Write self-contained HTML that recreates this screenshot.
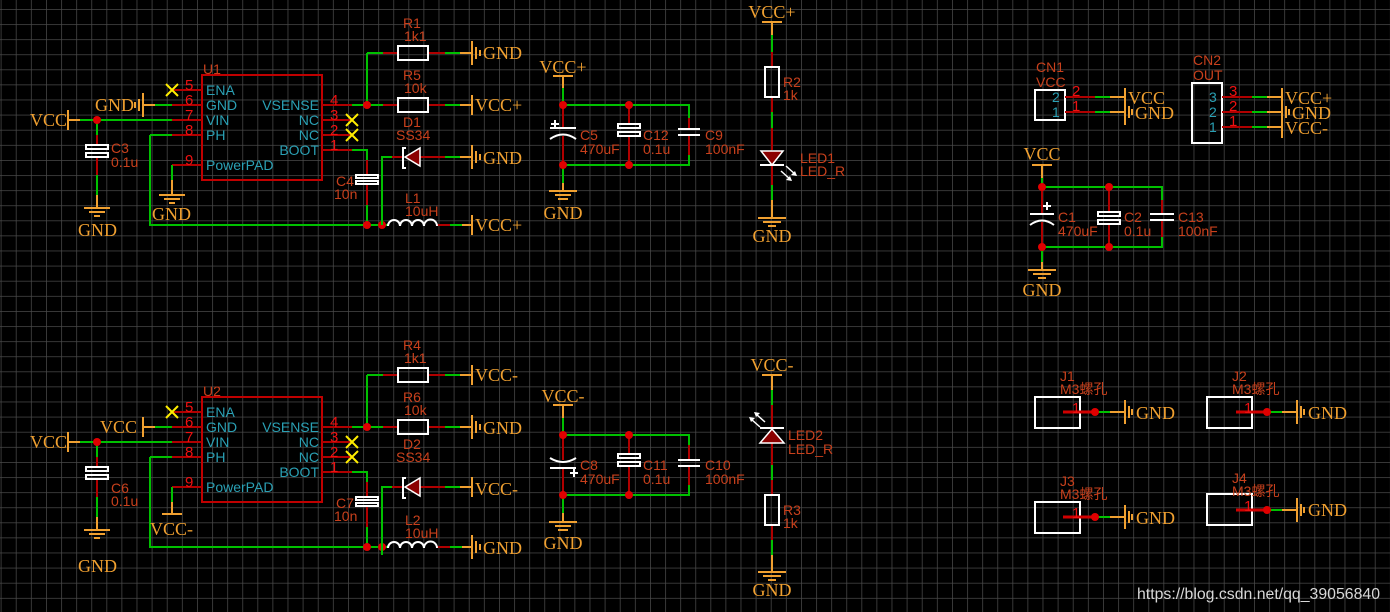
<!DOCTYPE html>
<html><head><meta charset="utf-8"><style>
html,body{margin:0;padding:0;background:#000;width:1390px;height:612px;overflow:hidden}
svg{display:block}
.p{font-family:"Liberation Serif",serif;font-size:18px;fill:#f0a030}
.d{font-family:"Liberation Sans","Noto Sans CJK SC",sans-serif;font-size:14px;fill:#c8401c}
.n{font-family:"Liberation Sans",sans-serif;font-size:14px;fill:#2aa0b4}
.pn{font-family:"Liberation Sans",sans-serif;font-size:15px;fill:#ee1111}
</style></head><body>
<svg width="1390" height="612" viewBox="0 0 1390 612" xmlns="http://www.w3.org/2000/svg">
<defs>
<pattern id="g" x="15.8" y="9" width="15.1" height="15.1" patternUnits="userSpaceOnUse">
<path d="M0 0H15.1M0 0V15.1" stroke="#4a4a4a" stroke-width="1.5" fill="none"/>
</pattern>
<g id="ic" fill="none" stroke-width="2">
<rect x="202" y="75" width="120" height="105" stroke="#c00000"/>
<g stroke="#b00000"><path d="M172 90H202M172 105H202M172 120H202M172 135H202M172 165H202M322 105H352M322 120H352M322 135H352M322 150H352"/></g>
<g stroke="#ffee00"><path d="M166 84l12 12M178 84l-12 12M346 114l12 12M358 114l-12 12M346 129l12 12M358 129l-12 12"/></g>
<g stroke="#00c000"><path d="M80 120H172M150 135H172M150 135V225H388M97 120V135M97 175V195"/>
<path d="M352 105H383M367 53V105M367 53H383M352 150H367V160M367 205V225M445 53H460M445 105H460M450 225H462M172 165V180"/></g>
<g stroke="#b00000"><path d="M97 135V145M97 157V175M383 53H398M428 53H445M383 105H398M428 105H445M367 160V175M367 183V205M437 225H450"/></g>
<g stroke="#fff"><rect x="86" y="145" width="22" height="4"/><rect x="86" y="153" width="22" height="4"/>
<rect x="398" y="46" width="30" height="14"/><rect x="398" y="98" width="30" height="14"/>
<rect x="356" y="175" width="22" height="3"/><rect x="356" y="181" width="22" height="3"/>
<path d="M388 226a6 6 0 0 1 12 0a6 6 0 0 1 12 0a6 6 0 0 1 12 0a6 6 0 0 1 13 0"/></g>
<g fill="#e00000" stroke="none"><circle cx="97" cy="120" r="4"/><circle cx="367" cy="105" r="4"/><circle cx="367" cy="225" r="4"/><circle cx="382" cy="225" r="4"/></g>
<g stroke="#f0a030"><path d="M97 195V208M84 208H110M89 212H105M94 216H100M460 53H472M460 105H472M462 225H472"/></g>
</g>
<g id="dio" fill="none" stroke-width="2">
<path d="M382 68V0H392M445 0H460" stroke="#00c000"/>
<path d="M392 0H403M420 0H445" stroke="#b00000"/>
<path d="M460 0H472" stroke="#f0a030"/>
<path d="M406 -9h-3v20h3" stroke="#fff"/>
<path d="M405 0L420 -9V9Z" fill="#8b0000" stroke="#fff" stroke-width="1.5"/>
</g>
</defs>
<rect width="1390" height="612" fill="#000"/>
<rect width="1390" height="612" fill="url(#g)"/>

<!-- U1 -->
<use href="#ic"/>
<use href="#dio" transform="translate(0,157)"/>
<g fill="none" stroke-width="2">
<path d="M155 105H172" stroke="#00c000"/>
<g stroke="#f0a030"><path d="M143 105H155M143 93V117M139 99V111M135 102V108M68 120H80M68 110V130M172 180V195M159 195H185M164 199H180M169 203H175"/>
<path d="M472 41V65M476 47V59M480 50V56M472 95V115M472 145V169M476 151V163M480 154V160M472 215V235"/></g>
</g>
<text class="p" x="95" y="111">GND</text><text class="p" x="30" y="126">VCC</text>
<text class="p" x="78" y="236">GND</text><text class="p" x="152" y="220">GND</text>
<text class="p" x="483" y="59">GND</text><text class="p" x="475" y="111">VCC+</text>
<text class="p" x="483" y="164">GND</text><text class="p" x="475" y="231">VCC+</text>
<text class="d" x="203" y="74">U1</text>
<text class="n" x="206" y="95">ENA</text><text class="n" x="206" y="110">GND</text><text class="n" x="206" y="125">VIN</text><text class="n" x="206" y="140">PH</text><text class="n" x="206" y="170">PowerPAD</text>
<text class="n" x="319" y="110" text-anchor="end">VSENSE</text><text class="n" x="319" y="125" text-anchor="end">NC</text><text class="n" x="319" y="140" text-anchor="end">NC</text><text class="n" x="319" y="155" text-anchor="end">BOOT</text>
<text class="pn" x="185" y="90">5</text><text class="pn" x="185" y="105">6</text><text class="pn" x="185" y="120">7</text><text class="pn" x="185" y="135">8</text><text class="pn" x="185" y="165">9</text>
<text class="pn" x="330" y="105">4</text><text class="pn" x="330" y="120">3</text><text class="pn" x="330" y="135">2</text><text class="pn" x="330" y="150">1</text>
<text class="d" x="111" y="153">C3</text><text class="d" x="111" y="167">0.1u</text>
<text class="d" x="403" y="28">R1</text><text class="d" x="404" y="41">1k1</text>
<text class="d" x="403" y="80">R5</text><text class="d" x="404" y="93">10k</text>
<text class="d" x="403" y="127">D1</text><text class="d" x="396" y="140">SS34</text>
<text class="d" x="336" y="186">C4</text><text class="d" x="334" y="199">10n</text>
<text class="d" x="405" y="203">L1</text><text class="d" x="405" y="216">10uH</text>

<!-- U2 -->
<use href="#ic" transform="translate(0,322)"/>
<use href="#dio" transform="translate(0,487)"/>
<g fill="none" stroke-width="2">
<path d="M155 427H172" stroke="#00c000"/>
<g stroke="#f0a030"><path d="M143 427H155M143 417V437M68 442H80M68 432V452M172 502V514M162 514H182"/>
<path d="M472 365V385M472 415V439M476 421V433M480 424V430M472 477V497M472 535V559M476 541V553M480 544V550"/></g>
</g>
<text class="p" x="100" y="433">VCC</text><text class="p" x="30" y="448">VCC</text>
<text class="p" x="78" y="572">GND</text><text class="p" x="150" y="535">VCC-</text>
<text class="p" x="475" y="381">VCC-</text><text class="p" x="483" y="434">GND</text>
<text class="p" x="475" y="495">VCC-</text><text class="p" x="483" y="554">GND</text>
<text class="d" x="203" y="396">U2</text>
<text class="n" x="206" y="417">ENA</text><text class="n" x="206" y="432">GND</text><text class="n" x="206" y="447">VIN</text><text class="n" x="206" y="462">PH</text><text class="n" x="206" y="492">PowerPAD</text>
<text class="n" x="319" y="432" text-anchor="end">VSENSE</text><text class="n" x="319" y="447" text-anchor="end">NC</text><text class="n" x="319" y="462" text-anchor="end">NC</text><text class="n" x="319" y="477" text-anchor="end">BOOT</text>
<text class="pn" x="185" y="412">5</text><text class="pn" x="185" y="427">6</text><text class="pn" x="185" y="442">7</text><text class="pn" x="185" y="457">8</text><text class="pn" x="185" y="487">9</text>
<text class="pn" x="330" y="427">4</text><text class="pn" x="330" y="442">3</text><text class="pn" x="330" y="457">2</text><text class="pn" x="330" y="472">1</text>
<text class="d" x="111" y="493">C6</text><text class="d" x="111" y="506">0.1u</text>
<text class="d" x="403" y="350">R4</text><text class="d" x="404" y="363">1k1</text>
<text class="d" x="403" y="402">R6</text><text class="d" x="404" y="415">10k</text>
<text class="d" x="403" y="449">D2</text><text class="d" x="396" y="462">SS34</text>
<text class="d" x="336" y="508">C7</text><text class="d" x="334" y="521">10n</text>
<text class="d" x="405" y="525">L2</text><text class="d" x="405" y="538">10uH</text>

<!-- output caps top -->
<g fill="none" stroke-width="2">
<path d="M553 76H573M563 76V88M555 195H571M558 199H568M549 191H577M563 183V191" stroke="#f0a030"/>
<path d="M563 88V105H689V118M563 165H689V155M563 165V183" stroke="#00c000"/>
<path d="M563 105V128M563 136V165M629 105V124M629 136V165M689 118V129M689 135V155" stroke="#b00000"/>
<g stroke="#fff"><path d="M550 128H576M550 139Q563 130 576 139M551 124h8M555 120v8M678 129H700M678 135H700"/><rect x="618" y="124" width="22" height="4"/><rect x="618" y="132" width="22" height="4"/></g>
</g>
<g fill="#e00000"><circle cx="563" cy="105" r="4"/><circle cx="629" cy="105" r="4"/><circle cx="563" cy="165" r="4"/><circle cx="629" cy="165" r="4"/></g>
<text class="p" x="563" y="73" text-anchor="middle">VCC+</text><text class="p" x="563" y="219" text-anchor="middle">GND</text>
<text class="d" x="580" y="140">C5</text><text class="d" x="580" y="154">470uF</text>
<text class="d" x="643" y="140">C12</text><text class="d" x="643" y="154">0.1u</text>
<text class="d" x="705" y="140">C9</text><text class="d" x="705" y="154">100nF</text>

<!-- output caps bottom -->
<g fill="none" stroke-width="2">
<path d="M553 405H573M563 405V418M549 522H577M555 526H571M558 530H568M563 513V522" stroke="#f0a030"/>
<path d="M563 418V435H689V445M563 495H689V485M563 495V513" stroke="#00c000"/>
<path d="M563 435V460M563 468V495M629 435V454M629 466V495M689 445V460M689 466V485" stroke="#b00000"/>
<g stroke="#fff"><path d="M550 468H576M550 458Q563 466 576 458M570 473h8M574 469v8M678 460H700M678 466H700"/><rect x="618" y="454" width="22" height="4"/><rect x="618" y="462" width="22" height="4"/></g>
</g>
<g fill="#e00000"><circle cx="563" cy="435" r="4"/><circle cx="629" cy="435" r="4"/><circle cx="563" cy="495" r="4"/><circle cx="629" cy="495" r="4"/></g>
<text class="p" x="563" y="402" text-anchor="middle">VCC-</text><text class="p" x="563" y="549" text-anchor="middle">GND</text>
<text class="d" x="580" y="470">C8</text><text class="d" x="580" y="484">470uF</text>
<text class="d" x="643" y="470">C11</text><text class="d" x="643" y="484">0.1u</text>
<text class="d" x="705" y="470">C10</text><text class="d" x="705" y="484">100nF</text>

<!-- LED1 -->
<g fill="none" stroke-width="2">
<path d="M762 22H782M772 22V35M772 200V218M758 218H786M763 222H781M768 226H776" stroke="#f0a030"/>
<path d="M772 35V52M772 112V128M772 185V200" stroke="#00c000"/>
<path d="M772 52V67M772 97V112M772 128V150M772 165V185" stroke="#b00000"/>
<rect x="765" y="67" width="14" height="30" stroke="#fff"/>
<path d="M760 165H784" stroke="#fff"/>
<path d="M786 166l10 9M781 171l10 9" stroke="#fff" stroke-width="1.5"/>
</g>
<path d="M761 151H783L772 165Z" fill="#8b0000" stroke="#fff" stroke-width="1.5"/>
<path d="M797 176l-6-1 4-4zM792 181l-6-1 4-4z" fill="#fff"/>
<text class="p" x="772" y="18" text-anchor="middle">VCC+</text><text class="p" x="772" y="242" text-anchor="middle">GND</text>
<text class="d" x="783" y="87">R2</text><text class="d" x="783" y="100">1k</text>
<text class="d" x="800" y="163">LED1</text><text class="d" x="800" y="176">LED_R</text>

<!-- LED2 -->
<g fill="none" stroke-width="2">
<path d="M762 375H782M772 375V390M772 555V572M758 572H786M763 576H781M768 580H776" stroke="#f0a030"/>
<path d="M772 390V405M772 465V480M772 540V555" stroke="#00c000"/>
<path d="M772 405V428M772 442V465M772 480V495M772 525V540" stroke="#b00000"/>
<rect x="765" y="495" width="14" height="30" stroke="#fff"/>
<path d="M760 428H784" stroke="#fff"/>
<path d="M765 422l-9-8M760 427l-9-8" stroke="#fff" stroke-width="1.5"/>
</g>
<path d="M772 429L784 443H760Z" fill="#8b0000" stroke="#fff" stroke-width="1.5"/>
<path d="M754 412l6 1-4 4zM749 417l6 1-4 4z" fill="#fff"/>
<text class="p" x="772" y="371" text-anchor="middle">VCC-</text><text class="p" x="772" y="596" text-anchor="middle">GND</text>
<text class="d" x="788" y="440">LED2</text><text class="d" x="788" y="454">LED_R</text>
<text class="d" x="783" y="515">R3</text><text class="d" x="783" y="528">1k</text>

<!-- CN1 / CN2 -->
<g fill="none" stroke-width="2">
<rect x="1035" y="90" width="30" height="30" stroke="#fff"/>
<rect x="1192" y="83" width="30" height="60" stroke="#fff"/>
<path d="M1065 97H1095M1065 112H1095M1222 97H1252M1222 112H1252M1222 127H1252" stroke="#b00000"/>
<path d="M1095 97H1110M1095 112H1110M1252 97H1267M1252 112H1267M1252 127H1267" stroke="#00c000"/>
<path d="M1110 97H1125M1110 112H1125M1125 88V125M1129 106V118M1132 109V115M1267 97H1282M1267 112H1282M1267 127H1282M1282 88V138M1286 106V118M1289 109V115" stroke="#f0a030"/>
</g>
<text class="n" x="1052" y="102">2</text><text class="n" x="1052" y="117">1</text>
<text class="n" x="1209" y="102">3</text><text class="n" x="1209" y="117">2</text><text class="n" x="1209" y="132">1</text>
<text class="pn" x="1072" y="96">2</text><text class="pn" x="1072" y="111">1</text>
<text class="pn" x="1229" y="96">3</text><text class="pn" x="1229" y="111">2</text><text class="pn" x="1229" y="126">1</text>
<text class="p" x="1128" y="104">VCC</text><text class="p" x="1135" y="119">GND</text>
<text class="p" x="1285" y="104">VCC+</text><text class="p" x="1292" y="119">GND</text><text class="p" x="1285" y="134">VCC-</text>
<text class="d" x="1036" y="72">CN1</text><text class="d" x="1036" y="87">VCC</text>
<text class="d" x="1193" y="65">CN2</text><text class="d" x="1193" y="80">OUT</text>

<!-- C1 block -->
<g fill="none" stroke-width="2">
<path d="M1032 165H1052M1042 165V178M1042 262V270M1028 270H1056M1033 274H1051M1038 278H1046" stroke="#f0a030"/>
<path d="M1042 178V187H1162V200M1042 247H1162V237M1042 247V262" stroke="#00c000"/>
<path d="M1042 187V214M1042 222V247M1109 187V212M1109 225V247M1162 200V214M1162 220V237" stroke="#b00000"/>
<g stroke="#fff"><path d="M1030 214H1054M1030 225Q1042 216 1054 225M1043 206h8M1047 202v8M1150 214H1174M1150 220H1174"/><rect x="1098" y="212" width="22" height="4"/><rect x="1098" y="220" width="22" height="4"/></g>
</g>
<g fill="#e00000"><circle cx="1042" cy="187" r="4"/><circle cx="1109" cy="187" r="4"/><circle cx="1042" cy="247" r="4"/><circle cx="1109" cy="247" r="4"/></g>
<text class="p" x="1042" y="160" text-anchor="middle">VCC</text><text class="p" x="1042" y="296" text-anchor="middle">GND</text>
<text class="d" x="1058" y="222">C1</text><text class="d" x="1058" y="236">470uF</text>
<text class="d" x="1124" y="222">C2</text><text class="d" x="1124" y="236">0.1u</text>
<text class="d" x="1178" y="222">C13</text><text class="d" x="1178" y="236">100nF</text>

<!-- J holes -->
<g fill="none" stroke-width="2">
<rect x="1035" y="397" width="45" height="31" stroke="#fff"/>
<rect x="1207" y="397" width="45" height="31" stroke="#fff"/>
<rect x="1035" y="502" width="45" height="31" stroke="#fff"/>
<rect x="1207" y="494" width="45" height="31" stroke="#fff"/>
<path d="M1063 412H1095M1236 412H1267M1063 517H1095M1236 510H1267" stroke="#d00000" stroke-width="3"/>
<path d="M1095 412H1110M1267 412H1282M1095 517H1110M1267 510H1282" stroke="#00c000"/>
<g stroke="#f0a030"><path d="M1110 412H1125M1125 400V424M1129 406V418M1132 409V415"/>
<path d="M1282 412H1297M1297 400V424M1301 406V418M1304 409V415"/>
<path d="M1110 517H1125M1125 505V529M1129 511V523M1132 514V520"/>
<path d="M1282 510H1297M1297 498V522M1301 504V516M1304 507V513"/></g>
</g>
<g fill="#e00000"><circle cx="1095" cy="412" r="4"/><circle cx="1267" cy="412" r="4"/><circle cx="1095" cy="517" r="4"/><circle cx="1267" cy="510" r="4"/></g>
<text class="pn" x="1072" y="413">1</text><text class="pn" x="1244" y="413">1</text><text class="pn" x="1072" y="518">1</text><text class="pn" x="1244" y="511">1</text>
<text class="p" x="1136" y="419">GND</text><text class="p" x="1308" y="419">GND</text><text class="p" x="1136" y="524">GND</text><text class="p" x="1308" y="516">GND</text>
<text class="d" x="1060" y="381">J1</text><text class="d" x="1060" y="394">M3螺孔</text>
<text class="d" x="1232" y="381">J2</text><text class="d" x="1232" y="394">M3螺孔</text>
<text class="d" x="1060" y="486">J3</text><text class="d" x="1060" y="499">M3螺孔</text>
<text class="d" x="1232" y="483">J4</text><text class="d" x="1232" y="496">M3螺孔</text>

<text x="1137" y="599" font-family="Liberation Sans,sans-serif" font-size="16" textLength="243" lengthAdjust="spacingAndGlyphs" fill="#d8d8d8">https://blog.csdn.net/qq_39056840</text>
</svg>
</body></html>
